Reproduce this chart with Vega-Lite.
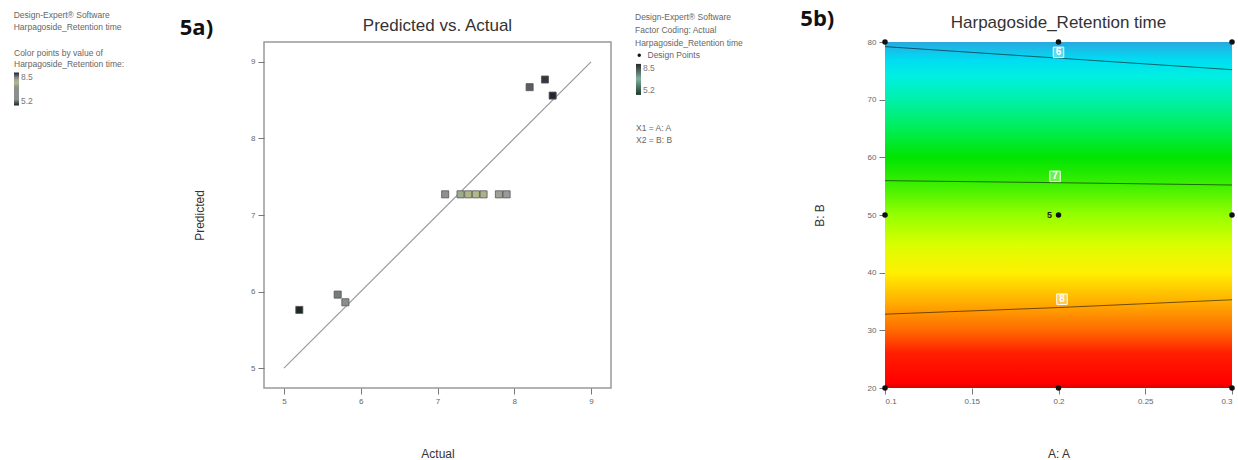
{
  "$schema": "https://vega.github.io/schema/vega-lite/v6.json",
  "padding": {"left": 12, "top": 8, "right": 0, "bottom": 0},
  "background": "white",
  "spacing": 23,
  "resolve": {"scale": {"x": "independent", "y": "independent", "fill": "independent", "stroke": "independent", "shape": "independent"}},
  "config": {
    "font": "Liberation Sans",
    "axis": {"domain": false, "grid": false, "tickColor": "#777", "tickSize": 6, "tickWidth": 1, "labelFontSize": 8, "labelColor": "#666", "labelFont": "Liberation Sans", "labelPadding": 3, "titleFont": "Liberation Sans", "titleFontSize": 12, "titleFontWeight": "normal", "titleColor": "#333"},
    "legend": {"padding": 0, "titleFont": "Liberation Sans", "titleFontSize": 8.5, "titleFontWeight": "normal", "titleColor": "#666", "titleLineHeight": 12, "labelFont": "Liberation Sans", "labelFontSize": 8.5, "labelColor": "#777"},
    "title": {"font": "Liberation Sans", "fontSize": 17, "fontWeight": "normal", "color": "#333"}
  },
  "hconcat": [
    {
      "width": 347,
      "height": 346,
      "title": {"text": "Predicted vs. Actual", "offset": -24},
      "view": {"stroke": "#999", "strokeWidth": 1.5},
      "layer": [
        {
          "data": {"values": [{"actual": 5, "predicted": 5}, {"actual": 9, "predicted": 9}]},
          "mark": {"type": "line", "color": "#9a9a9a", "strokeWidth": 1.2},
          "encoding": {
            "x": {"field": "actual", "type": "quantitative", "scale": {"domain": [4.74, 9.26], "nice": false, "zero": false}, "axis": {"title": "Actual", "values": [5, 6, 7, 8, 9], "format": "d", "titlePadding": 43}},
            "y": {"field": "predicted", "type": "quantitative", "scale": {"domain": [4.74, 9.26], "nice": false, "zero": false}, "axis": {"title": "Predicted", "values": [5, 6, 7, 8, 9], "format": "d", "titlePadding": 44}}
          }
        },
        {
          "data": {"values": [
            {"actual": 5.2, "predicted": 5.76},
            {"actual": 5.7, "predicted": 5.96},
            {"actual": 5.8, "predicted": 5.86},
            {"actual": 7.1, "predicted": 7.27},
            {"actual": 7.3, "predicted": 7.27},
            {"actual": 7.4, "predicted": 7.27},
            {"actual": 7.5, "predicted": 7.27},
            {"actual": 7.6, "predicted": 7.27},
            {"actual": 7.8, "predicted": 7.27},
            {"actual": 7.9, "predicted": 7.27},
            {"actual": 8.2, "predicted": 8.67},
            {"actual": 8.4, "predicted": 8.77},
            {"actual": 8.5, "predicted": 8.56}
          ]},
          "mark": {"type": "square", "size": 50, "filled": true, "opacity": 1, "stroke": "#555", "strokeWidth": 0.8},
          "encoding": {
            "x": {"field": "actual", "type": "quantitative"},
            "y": {"field": "predicted", "type": "quantitative"},
            "fill": {
              "field": "actual", "type": "quantitative",
              "scale": {"domain": [5.2, 5.8, 7.1, 7.45, 7.9, 8.5], "range": ["#1b2a22", "#8a8f8c", "#8e928e", "#b4bc84", "#9a9a9a", "#2a2230"]},
              "legend": {
                "orient": "none", "legendX": -250, "legendY": 6.5, "direction": "vertical",
                "title": ["Color points by value of", "Harpagoside_Retention time:"],
                "titleLineHeight": 11.5, "titlePadding": 4, "values": [5.2, 8.5], "format": ".1f", "gradientLength": 33, "gradientThickness": 5, "gradientStrokeWidth": 0, "labelOffset": 2
              }
            }
          }
        },
        {
          "data": {"values": [{"note": "Design-Expert® Software\nHarpagoside_Retention time"}]},
          "mark": {"type": "text", "font": "Liberation Sans", "fontSize": 8.5, "color": "#666", "align": "left", "baseline": "top", "lineBreak": "\n", "lineHeight": 12},
          "encoding": {
            "x": {"datum": 1.48},
            "y": {"datum": 9.66},
            "text": {"field": "note"}
          }
        },
        {
          "data": {"values": [{"label": "5a)"}]},
          "mark": {"type": "text", "font": "Open Sans", "fontSize": 22, "fontWeight": "bold", "color": "#111"},
          "encoding": {
            "x": {"datum": 3.86},
            "y": {"datum": 9.447},
            "text": {"field": "label"}
          }
        }
      ]
    },
    {
      "width": 347,
      "height": 346,
      "title": {"text": "Harpagoside_Retention time", "offset": -24},
      "view": {"stroke": null},
      "layer": [
        {
          "data": {"values": [{"A": 0.1, "A2": 0.3, "B": 20, "B2": 80}]},
          "mark": {"type": "rect", "fill": {"gradient": "linear", "x1": 0, "y1": 1, "x2": 0, "y2": 0, "stops": [
            {"offset": 0, "color": "#d80000"},
            {"offset": 0.015, "color": "#ff0000"},
            {"offset": 0.1, "color": "#ff1e00"},
            {"offset": 0.167, "color": "#ff6a00"},
            {"offset": 0.25, "color": "#ffb000"},
            {"offset": 0.333, "color": "#fff000"},
            {"offset": 0.417, "color": "#d8ff00"},
            {"offset": 0.5, "color": "#95ff00"},
            {"offset": 0.583, "color": "#40f000"},
            {"offset": 0.667, "color": "#00e400"},
            {"offset": 0.75, "color": "#00ee58"},
            {"offset": 0.833, "color": "#00f0aa"},
            {"offset": 0.9, "color": "#00f0e2"},
            {"offset": 0.95, "color": "#00dcf2"},
            {"offset": 1, "color": "#2aa8e0"}
          ]}},
          "encoding": {
            "x": {"field": "A", "type": "quantitative", "scale": {"domain": [0.1, 0.3], "nice": false, "zero": false}, "axis": {"title": "A: A", "values": [0.1, 0.15, 0.2, 0.25, 0.3], "format": "~g", "titlePadding": 43}},
            "x2": {"field": "A2"},
            "y": {"field": "B", "type": "quantitative", "scale": {"domain": [20, 80], "nice": false, "zero": false}, "axis": {"title": "B: B", "values": [20, 30, 40, 50, 60, 70, 80], "titlePadding": 41}},
            "y2": {"field": "B2"}
          }
        },
        {
          "data": {"values": [
            {"level": "6", "A": 0.1, "B": 79.2},
            {"level": "6", "A": 0.15, "B": 78.2},
            {"level": "6", "A": 0.2, "B": 77.2},
            {"level": "6", "A": 0.25, "B": 76.2},
            {"level": "6", "A": 0.3, "B": 75.2},
            {"level": "7", "A": 0.1, "B": 55.96},
            {"level": "7", "A": 0.2, "B": 55.6},
            {"level": "7", "A": 0.3, "B": 55.2},
            {"level": "8", "A": 0.1, "B": 32.8},
            {"level": "8", "A": 0.2, "B": 33.95},
            {"level": "8", "A": 0.3, "B": 35.3}
          ]},
          "mark": {"type": "line", "color": "#000", "opacity": 0.55, "strokeWidth": 1},
          "encoding": {
            "x": {"field": "A", "type": "quantitative"},
            "y": {"field": "B", "type": "quantitative"},
            "detail": {"field": "level"}
          }
        },
        {
          "data": {"values": [
            {"A": 0.2, "B": 78.2, "lab": "6"},
            {"A": 0.198, "B": 56.7, "lab": "7"},
            {"A": 0.202, "B": 35.4, "lab": "8"}
          ]},
          "layer": [
            {
              "mark": {"type": "square", "size": 110, "filled": true, "fill": "#ffffff", "fillOpacity": 0.3, "stroke": "#ffffff", "strokeWidth": 1, "opacity": 1},
              "encoding": {"x": {"field": "A", "type": "quantitative"}, "y": {"field": "B", "type": "quantitative"}}
            },
            {
              "mark": {"type": "text", "fontSize": 10, "fontWeight": "bold", "color": "#ffffff"},
              "encoding": {"x": {"field": "A", "type": "quantitative"}, "y": {"field": "B", "type": "quantitative"}, "text": {"field": "lab"}}
            }
          ]
        },
        {
          "data": {"values": [
            {"A": 0.1, "B": 20, "val": 8.65, "kind": "Design Points"},
            {"A": 0.2, "B": 20, "val": 8.7, "kind": "Design Points"},
            {"A": 0.3, "B": 20, "val": 8.6, "kind": "Design Points"},
            {"A": 0.1, "B": 50, "val": 7.3, "kind": "Design Points"},
            {"A": 0.2, "B": 50, "val": 7.27, "kind": "Design Points"},
            {"A": 0.3, "B": 50, "val": 7.25, "kind": "Design Points"},
            {"A": 0.1, "B": 80, "val": 5.9, "kind": "Design Points"},
            {"A": 0.2, "B": 80, "val": 5.95, "kind": "Design Points"},
            {"A": 0.3, "B": 80, "val": 5.85, "kind": "Design Points"}
          ]},
          "mark": {"type": "point", "filled": true, "fill": "#111", "size": 30, "opacity": 1, "strokeWidth": 0},
          "encoding": {
            "x": {"field": "A", "type": "quantitative"},
            "y": {"field": "B", "type": "quantitative"},
            "shape": {"field": "kind", "type": "nominal", "scale": {"range": ["circle"]},
              "legend": {"orient": "none", "legendX": -250, "legendY": -28.6, "title": ["Design-Expert® Software", "Factor Coding: Actual", "Harpagoside_Retention time"], "titleLineHeight": 13, "titlePadding": 3, "symbolSize": 12, "symbolFillColor": "#111", "symbolStrokeWidth": 0, "labelColor": "#666", "rowPadding": 0}},
            "stroke": {"field": "val", "type": "quantitative",
              "scale": {"domain": [5.2, 6.9, 8.5], "range": ["#1a3a2a", "#80b4a0", "#2a2a2a"]},
              "legend": {"orient": "none", "legendX": -249, "legendY": 21.9, "direction": "vertical", "title": ["X1 = A: A", "X2 = B: B"], "titleOrient": "bottom", "titlePadding": 29, "values": [5.2, 8.5], "format": ".1f", "gradientLength": 31, "gradientThickness": 5, "gradientStrokeWidth": 0, "labelOffset": 2}}
          }
        },
        {
          "data": {"values": [{"A": 0.2, "B": 50, "t": "5"}]},
          "mark": {"type": "text", "fontSize": 9, "fontWeight": "bold", "color": "#222", "dx": -9},
          "encoding": {"x": {"field": "A", "type": "quantitative"}, "y": {"field": "B", "type": "quantitative"}, "text": {"field": "t"}}
        },
        {
          "data": {"values": [{"label": "5b)"}]},
          "mark": {"type": "text", "font": "Open Sans", "fontSize": 22, "fontWeight": "bold", "color": "#111"},
          "encoding": {"x": {"datum": 0.061}, "y": {"datum": 83.93}, "text": {"field": "label"}}
        }
      ]
    }
  ]
}
